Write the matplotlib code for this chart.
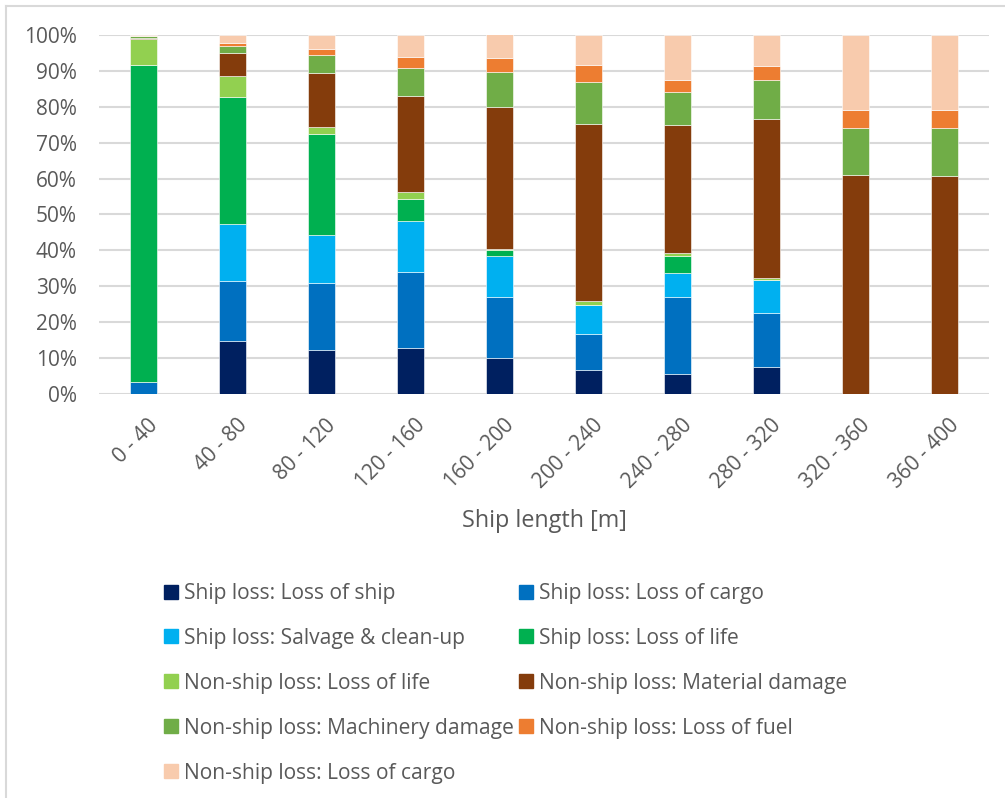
import matplotlib.pyplot as plt
from matplotlib.lines import Line2D
from matplotlib.transforms import ScaledTranslation
import numpy as np

plt.rcParams['font.family'] = ['Open Sans', 'DejaVu Sans']

lengths = ["0 - 40", "40 - 80", "80 - 120", "120 - 160", "160 - 200",
           "200 - 240", "240 - 280", "280 - 320", "320 - 360", "360 - 400"]

series_names = ["Ship loss: Loss of ship", "Ship loss: Loss of cargo",
                "Ship loss: Salvage & clean-up", "Ship loss: Loss of life",
                "Non-ship loss: Loss of life", "Non-ship loss: Material damage",
                "Non-ship loss: Machinery damage", "Non-ship loss: Loss of fuel",
                "Non-ship loss: Loss of cargo"]

# share in % per length class
loss_of_ship = [0, 14.8, 12.3, 12.8, 10.0, 6.7, 5.6, 7.6, 0, 0]
loss_of_cargo = [3.4, 16.6, 18.6, 21.2, 17.0, 10.0, 21.4, 15.0, 0, 0]
salvage = [0, 15.9, 13.5, 14.2, 11.4, 8.1, 6.7, 9.2, 0, 0]
loss_of_life = [88.2, 35.4, 28.0, 6.1, 1.7, 0, 4.8, 0, 0, 0]
ns_loss_of_life = [7.3, 5.9, 1.9, 2.0, 0.2, 1.2, 0.7, 0.4, 0, 0]
ns_material = [0.4, 6.3, 15.2, 26.7, 39.6, 49.3, 35.7, 44.4, 61.1, 60.8]
ns_machinery = [0.3, 2.1, 4.8, 7.9, 9.7, 11.5, 9.1, 10.9, 13.0, 13.3]
ns_fuel = [0.2, 0.8, 1.7, 3.0, 4.0, 4.9, 3.5, 4.0, 5.1, 5.1]
ns_cargo = [0.2, 2.2, 4.0, 6.1, 6.6, 8.3, 12.5, 8.5, 20.8, 20.8]

colors = ["#002060", "#0070C0", "#00B0F0", "#00B050", "#92D050",
          "#843C0C", "#70AD47", "#ED7D31", "#F8CBAD"]

series = [loss_of_ship, loss_of_cargo, salvage, loss_of_life, ns_loss_of_life,
          ns_material, ns_machinery, ns_fuel, ns_cargo]

W, H = 1005, 798
fig = plt.figure(figsize=(W / 100, H / 100), dpi=100)
ax = fig.add_axes([99 / W, 1 - 394 / H, 890 / W, 359 / H])

x = np.arange(len(lengths))
bottom = np.zeros(len(lengths))
handles = []
for vals, name, c in zip(series, series_names, colors):
    v = np.array(vals)
    ax.bar(x, v, 0.31, bottom=bottom, color=c, edgecolor="white",
           linewidth=0.4, zorder=3)
    bottom += v
    handles.append(Line2D([], [], marker="s", linestyle="none", markersize=10,
                          markerfacecolor=c, markeredgecolor=c, label=name))

txt = "#595959"
ax.set_xlim(-0.5, len(lengths) - 0.5)
ax.set_ylim(0, 100)
ax.set_yticks(np.arange(0, 101, 10))
ax.set_yticklabels([f"{v}%" for v in range(0, 101, 10)])
ax.set_xticks(x)
ax.set_xticklabels(lengths, rotation=45, ha="right", rotation_mode="anchor")
ax.tick_params(axis="both", length=0, colors=txt, labelsize=15)
ax.tick_params(axis="y", pad=16)
ax.tick_params(axis="x", pad=15)
shift = ScaledTranslation(4 / 100, 0, fig.dpi_scale_trans)
for lab in ax.get_xticklabels():
    lab.set_transform(lab.get_transform() + shift)
ax.grid(axis="y", color="#D9D9D9", linewidth=1.5, zorder=0)
for s in ax.spines.values():
    s.set_visible(False)

fig.text(544 / W, 1 - 521 / H, "Ship length [m]", ha="center", va="center",
         color=txt, fontsize=16.8)

# legend is filled row by row in the original
order = [0, 2, 4, 6, 8, 1, 3, 5, 7]
leg = fig.legend(handles=[handles[i] for i in order], ncol=2, loc="upper left",
                 bbox_to_anchor=(144 / W, 1 - 564 / H), frameon=False,
                 fontsize=15.1, labelcolor=txt, handletextpad=0.2,
                 handlelength=0.8, columnspacing=0.2, labelspacing=1.14)

# chart border like the original
fig.add_artist(Line2D([5.5 / W, 5.5 / W], [0, 1 - 5.5 / H], color="#D9D9D9",
                      linewidth=1.5, transform=fig.transFigure))
fig.add_artist(Line2D([5.5 / W, 1], [1 - 5.5 / H, 1 - 5.5 / H], color="#D9D9D9",
                      linewidth=1.5, transform=fig.transFigure))

fig.savefig("out.png", dpi=100, facecolor="white")
